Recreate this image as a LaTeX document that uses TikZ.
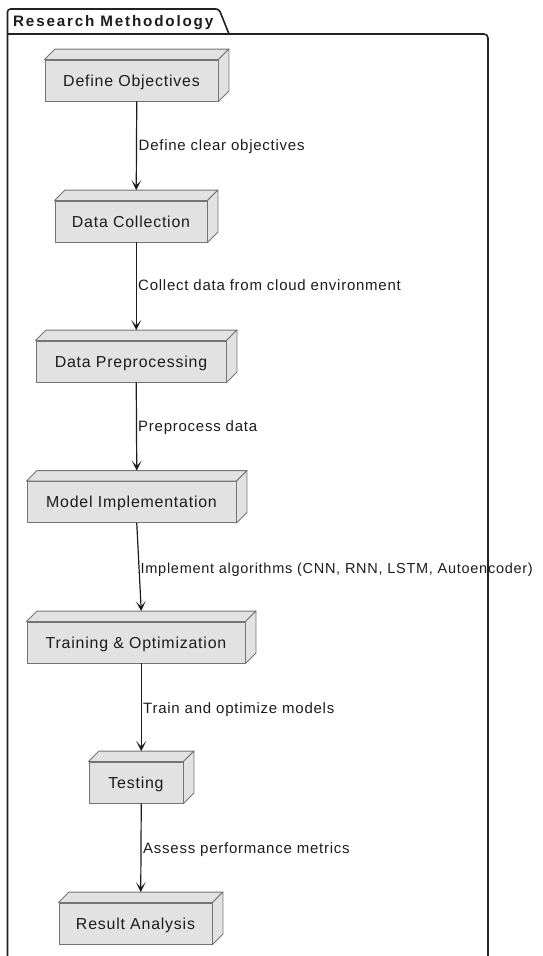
\documentclass[tikz,border=0pt]{standalone}
\usepackage{fontspec}
\setmainfont{Liberation Sans}
\newfontfamily\boxfont[LetterSpace=5]{Liberation Sans}
\newfontfamily\lblfont[LetterSpace=5]{Liberation Sans}
\newfontfamily\titlefont[LetterSpace=12]{Liberation Sans}
\usetikzlibrary{arrows.meta}
\definecolor{boxfill}{HTML}{E2E2E2}
\definecolor{boxline}{HTML}{747474}
\definecolor{lineclr}{HTML}{1C1C1C}
\definecolor{frameclr}{HTML}{222222}
\begin{document}
\begin{tikzpicture}[x=1pt,y=-1pt,
  cube/.style={draw=boxline, fill=boxfill, line width=0.9pt, minimum height=41pt, inner sep=0pt,
    font=\boxfont\fontsize{15.9}{18}\selectfont, text=lineclr, text height=11.3pt, text depth=0pt},
  face/.style={draw=boxline, fill=boxfill, line width=0.9pt, line join=round},
  flow/.style={draw=lineclr, line width=1.2pt, -{Stealth[length=10pt,width=10pt,inset=5.5pt]}},
  lbl/.style={anchor=base west, inner sep=0pt, font=\lblfont\fontsize{15}{17}\selectfont, text=lineclr},
  frame/.style={draw=frameclr, line width=1.6pt},
]
\useasboundingbox (0,0) rectangle (542,956);
% frame
\draw[frame, rounded corners=3pt] (7.5,960) -- (7.5,9) -- (219,9) -- (229,34);
\draw[frame, rounded corners=4pt] (7.5,34) -- (488,34) -- (488,960);
\node[anchor=base west, inner sep=0pt, font=\titlefont\bfseries\fontsize{15.2}{17}\selectfont, text=lineclr] (title) at (13,26.5) {Research Methodology};
% nodes
\node[cube, minimum width=173pt] (n1) at (131.5,80.5) {Define Objectives};
\node[cube, minimum width=152pt] (n2) at (131,221.5) {Data Collection};
\node[cube, minimum width=190pt] (n3) at (131,361.5) {Data Preprocessing};
\node[cube, minimum width=209pt] (n4) at (131.5,502) {Model Implementation};
\node[cube, minimum width=218pt] (n5) at (136,642.5) {Training \& Optimization};
\node[cube, minimum width=94pt] (n6) at (136,782.5) {Testing};
\node[cube, minimum width=153pt] (n7) at (135.5,923.5) {Result Analysis};
\foreach \n in {n1,n2,n3,n4,n5,n6,n7}{
  \filldraw[face] (\n.north west) -- ++(10.5,-10.5) -- ([shift={(10.5,-10.5)}]\n.north east) -- (\n.north east) -- cycle;
  \filldraw[face] (\n.north east) -- ++(10.5,-10.5) -- ([shift={(10.5,-10.5)}]\n.south east) -- (\n.south east) -- cycle;
}
% connectors
\draw[flow] ([xshift=5.25pt]n1.south) -- ([xshift=5.25pt,yshift=10.5pt]n2.north);
\draw[flow] ([xshift=5.25pt]n2.south) -- ([xshift=5.25pt,yshift=10.5pt]n3.north);
\draw[flow] ([xshift=5.25pt]n3.south) -- ([xshift=5.25pt,yshift=10.5pt]n4.north);
\draw[flow] ([xshift=5.25pt]n4.south) -- ([xshift=5.25pt,yshift=10.5pt]n5.north);
\draw[flow] ([xshift=5.25pt]n5.south) -- ([xshift=5.25pt,yshift=10.5pt]n6.north);
\draw[flow] ([xshift=5.25pt]n6.south) -- ([xshift=5.25pt,yshift=10.5pt]n7.north);
% labels
\node[lbl] (l1) at (138.5,150) {Define clear objectives};
\node[lbl] (l2) at (138,290) {Collect data from cloud environment};
\node[lbl] (l3) at (138,431) {Preprocess data};
\node[lbl, font=\lblfont\fontsize{14.5}{17}\selectfont] (l4) at (140.5,573) {Implement algorithms (CNN, RNN, LSTM, Autoencoder)};
\node[lbl] (l5) at (143,713) {Train and optimize models};
\node[lbl] (l6) at (143,853) {Assess performance metrics};
\end{tikzpicture}
\end{document}
